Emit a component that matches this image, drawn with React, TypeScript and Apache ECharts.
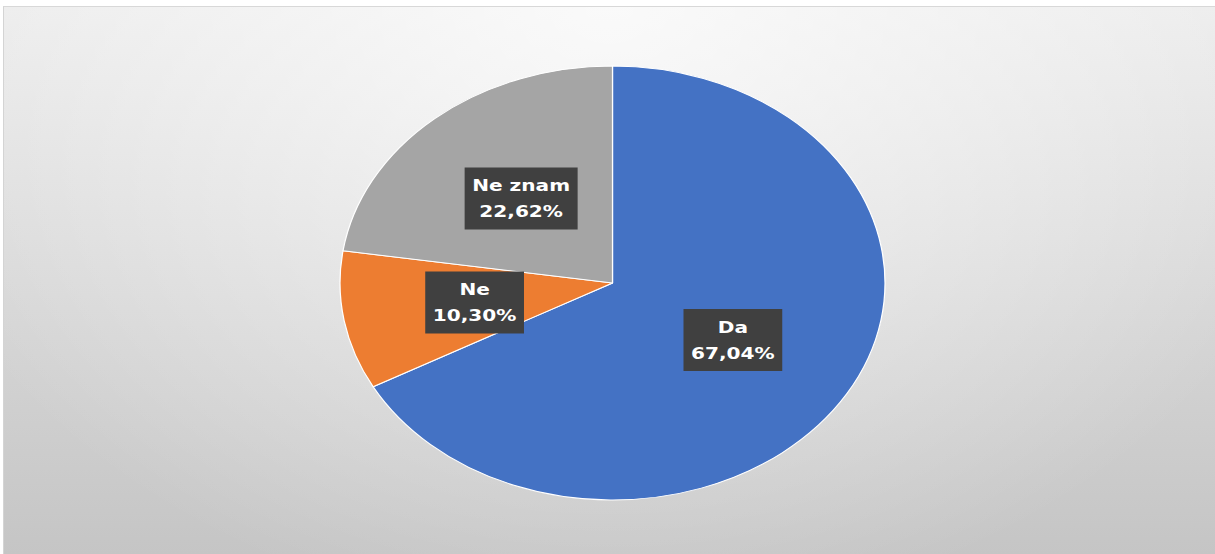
import React, { useEffect, useRef } from "react";
import * as echarts from "echarts";

const categories = ["Da", "Ne", "Ne znam"];
const values = [67.04, 10.3, 22.62];
const colors = ["#4472c4", "#ed7d31", "#a5a5a5"];

const SCALE_X = 1.2558;
const FRAME_W = 1212;
const FRAME_H = 548;

export default function App() {
  const ref = useRef<HTMLDivElement>(null);

  useEffect(() => {
    if (!ref.current) return;
    const chart = echarts.init(ref.current, undefined, { renderer: "svg" });
    chart.setOption({
      animation: false,
      backgroundColor: "transparent",
      series: [
        {
          type: "pie",
          center: [608.5 / SCALE_X, 276],
          radius: 217,
          startAngle: 90,
          clockwise: true,
          avoidLabelOverlap: false,
          itemStyle: { borderColor: "#ffffff", borderWidth: 1 },
          label: {
            show: true,
            position: "inside",
            formatter: (p: any) =>
              p.name + "\n" + p.value.toFixed(2).replace(".", ",") + "%",
            color: "#ffffff",
            fontFamily: "DejaVu Sans",
            fontWeight: "bold",
            fontSize: 16,
            lineHeight: 26,
            backgroundColor: "#404040",
            padding: [5, 6],
            align: "center",
          },
          labelLine: { show: false },
          emphasis: { disabled: true },
          data: categories.map((c, i) => ({
            name: c,
            value: values[i],
            itemStyle: { color: colors[i] },
          })),
        },
      ],
    });
    return () => chart.dispose();
  }, []);

  return (
    <div
      style={{
        position: "fixed",
        left: 0,
        top: 0,
        width: 1215,
        height: 554,
        background: "#ffffff",
        overflow: "hidden",
      }}
    >
      <div
        style={{
          position: "absolute",
          left: 3,
          top: 6,
          width: FRAME_W,
          height: FRAME_H,
          borderTop: "1px solid #d8d8d8",
          borderLeft: "1px solid #d4d4d4",
          boxSizing: "border-box",
          background:
            "radial-gradient(760px 620px at 50% 0%, rgba(255,255,255,0.75) 0%, rgba(255,255,255,0) 100%), linear-gradient(#ebebeb, #c5c5c5)",
          overflow: "hidden",
        }}
      >
        <div
          ref={ref}
          style={{
            position: "absolute",
            left: 0,
            top: 0,
            width: FRAME_W / SCALE_X,
            height: FRAME_H,
            transform: `scaleX(${SCALE_X})`,
            transformOrigin: "0 0",
          }}
        />
      </div>
    </div>
  );
}
